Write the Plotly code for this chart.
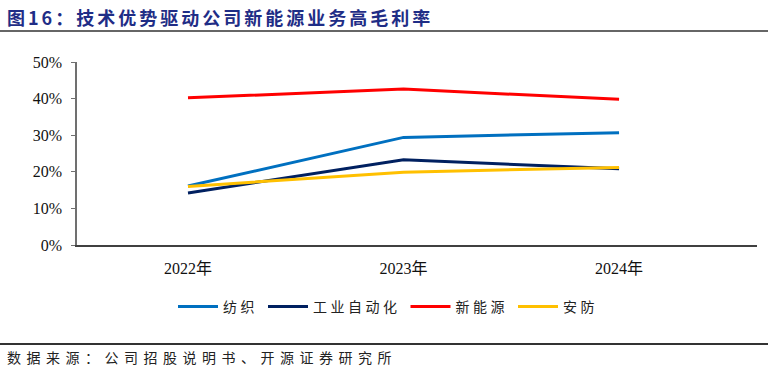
import plotly.graph_objects as go

years = ["2022年", "2023年", "2024年"]
series_names = ["纺织", "工业自动化", "新能源", "安防"]
textile = [0.161, 0.294, 0.307]
automation = [0.142, 0.233, 0.208]
new_energy = [0.402, 0.426, 0.398]
security = [0.160, 0.199, 0.212]
colors = ["#0070C0", "#002060", "#FF0000", "#FFC000"]
yticks = [0, 0.1, 0.2, 0.3, 0.4, 0.5]
ytick_labels = ["0%", "10%", "20%", "30%", "40%", "50%"]

W, H = 774, 374
L, R, T, B = 77, 17, 62, 129
pw, ph = W - L - R, H - T - B

def px(x):
    return (x - L) / pw

def py(y):
    return (H - B - y) / ph

serif = "Liberation Serif, Noto Sans CJK SC"
cjk = "Noto Sans CJK SC"

fig = go.Figure()
xs = list(range(len(years)))
for name, vals, c in zip(series_names, [textile, automation, new_energy, security], colors):
    fig.add_trace(go.Scatter(
        x=xs, y=vals, mode="lines", name=f'<span style="letter-spacing:3.5px">{name}</span>',
        line=dict(color=c, width=3),
    ))

fig.update_layout(
    width=W, height=H,
    margin=dict(l=L, r=R, t=T, b=B),
    paper_bgcolor="white", plot_bgcolor="white",
    showlegend=True,
    legend=dict(orientation="h", x=px(388), y=py(307), xanchor="center", yanchor="middle",
                font=dict(family=cjk, size=14, color="#222"),
                itemwidth=40, tracegroupgap=0, bgcolor="rgba(0,0,0,0)"),
    xaxis=dict(range=[-0.515, 2.64], tickvals=xs, ticktext=years, showgrid=False,
               zeroline=False, showline=True, linecolor="#404040", linewidth=1.5,
               ticks="", ticklabelstandoff=8, tickfont=dict(family=serif, size=16, color="#111")),
    yaxis=dict(range=[0, 0.5], tickvals=yticks, ticktext=ytick_labels, showgrid=False,
               zeroline=False, showline=True, linecolor="#707070", linewidth=1.5,
               ticks="outside", ticklen=4, tickcolor="#707070", ticklabelstandoff=6,
               tickfont=dict(family=serif, size=16, color="#111")),
)

fig.add_annotation(
    text='<b><span style="letter-spacing:3px">图16：技术优势驱动公司新能源业务高毛利率</span></b>',
    xref="paper", yref="paper", x=px(5), y=py(17), xanchor="left", yanchor="middle",
    showarrow=False, font=dict(family=cjk, size=18, color="#1F2D86"),
)
fig.add_annotation(
    text='<span style="letter-spacing:5.5px">数据来源：公司招股说明书、开源证券研究所</span>',
    xref="paper", yref="paper", x=px(5), y=py(357), xanchor="left", yanchor="middle",
    showarrow=False, font=dict(family=cjk, size=14, color="#222"),
)
fig.add_shape(type="line", xref="paper", yref="paper", x0=px(0), x1=px(768), y0=py(31), y1=py(31),
              line=dict(color="#333", width=1.5))
fig.add_shape(type="line", xref="paper", yref="paper", x0=px(0), x1=px(768), y0=py(344), y1=py(344),
              line=dict(color="#333", width=2))

fig.write_html("out.html")
